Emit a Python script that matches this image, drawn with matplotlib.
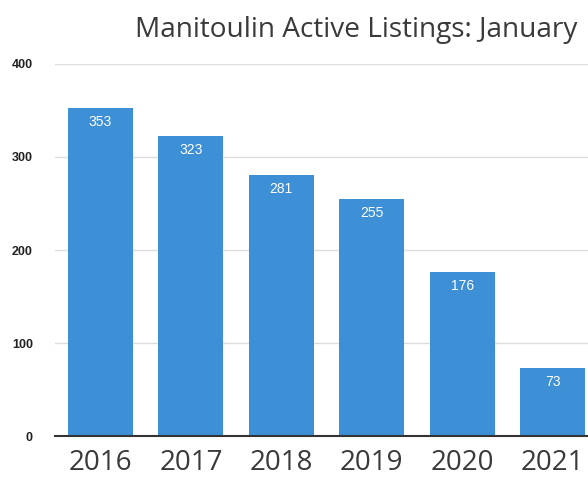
import matplotlib.pyplot as plt

years = ["2016", "2017", "2018", "2019", "2020", "2021"]
listings = [353, 323, 281, 255, 176, 73]
y_ticks = [0, 100, 200, 300, 400]

fig = plt.figure(figsize=(5.88, 4.87), dpi=100)
ax = fig.add_axes([0.0935, 0.1047, 0.9065, 0.7639])

x = range(len(years))
bars = ax.bar(x, listings, width=0.72, color="#3d8fd6", zorder=2)

for i, v in enumerate(listings):
    ax.text(i, v - 15, str(v), ha="center", va="center", color="white",
            fontsize=10, family="Liberation Sans", zorder=3)

ax.set_xlim(-0.503, 5.39)
ax.set_ylim(0, 400)
ax.set_yticks(y_ticks)
ax.set_yticklabels([str(t) for t in y_ticks], family="Liberation Sans",
                   fontweight="bold", fontsize=9, color="#222222")
ax.tick_params(axis="y", length=0, pad=16)
ax.set_xticks(list(x))
ax.set_xticklabels(years, family="Open Sans", fontsize=20, color="#3a3a3a")
ax.tick_params(axis="x", length=0, pad=9)

ax.grid(axis="y", color="#dddddd", linewidth=1, zorder=0)
for s in ["top", "right", "left"]:
    ax.spines[s].set_visible(False)
ax.spines["bottom"].set_color("#333333")
ax.spines["bottom"].set_linewidth(1.5)
ax.spines["bottom"].set_zorder(4)

fig.text(0.23, 0.925, "Manitoulin Active Listings: January", family="Open Sans",
         fontsize=20.2, color="#3a3a3a", ha="left", va="baseline")

fig.savefig("out.png", dpi=100)
